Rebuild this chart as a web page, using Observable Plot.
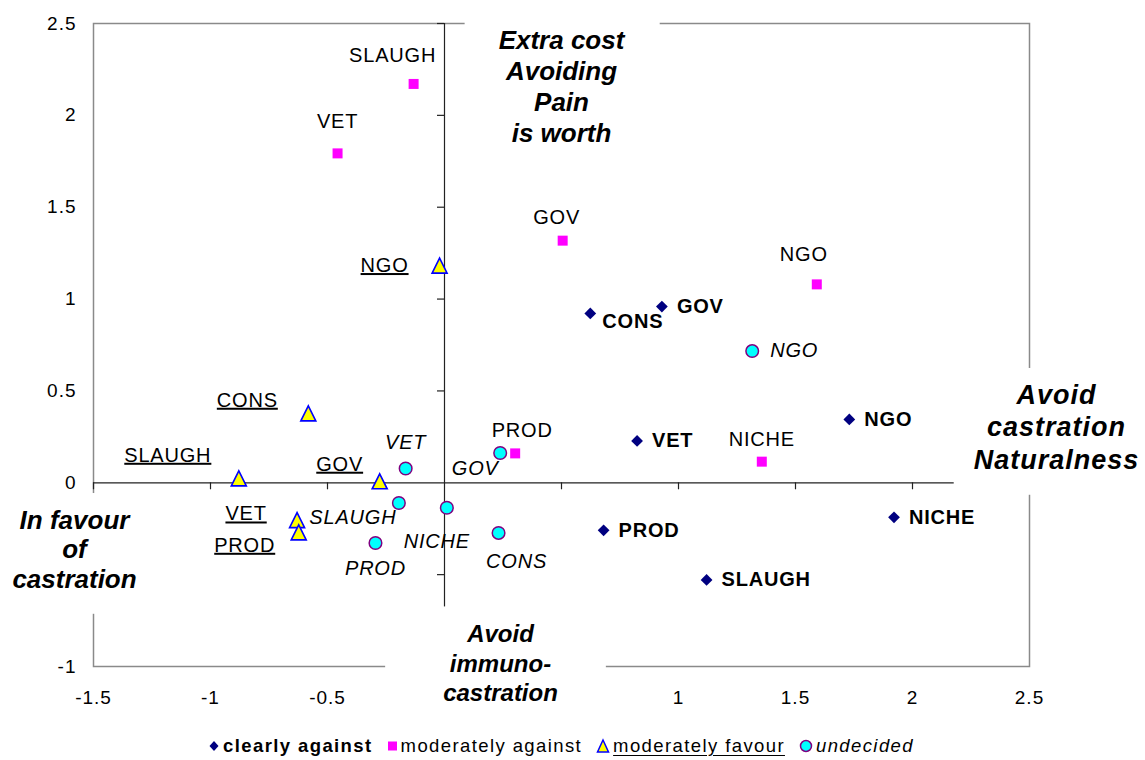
<!DOCTYPE html>
<html>
<head>
<meta charset="utf-8">
<script src="https://cdn.jsdelivr.net/npm/d3@7"></script>
<script src="https://cdn.jsdelivr.net/npm/@observablehq/plot@0.6"></script>
<style>
  html, body { margin: 0; padding: 0; background: #fff; }
  body { width: 1145px; height: 760px; overflow: hidden; font-family: "Liberation Sans", Arial, sans-serif; }
  #chart svg { display: block; }
  g[aria-label="x-axis tick label"] text, g[aria-label="y-axis tick label"] text { letter-spacing: 1px; }
  g[aria-description="pt-label"] text { letter-spacing: 0.8px; }
  g[aria-description="favour-label"] text { letter-spacing: 0.8px; text-decoration: underline; text-decoration-thickness: 2px; text-underline-offset: 3px; }
  #legend { display: flex; justify-content: center; align-items: center; height: 48px; padding-right: 23px;
            font-size: 18.5px; letter-spacing: 1.4px; color: #000; }
  #legend .item { display: flex; align-items: center; margin: 0 7px; }
  #legend svg { margin-right: 3px; }
</style>
</head>
<body>
<div id="chart"></div>
<div id="legend"></div>
<script>
// ---------- data ----------
const seriesNames = ["clearly against", "moderately against", "moderately favour", "undecided"];

const clearlyAgainstLabels = ["CONS", "GOV", "NGO", "VET", "PROD", "NICHE", "SLAUGH"];
const clearlyAgainstX = [0.623, 0.929, 1.730, 0.823, 0.680, 1.921, 1.120];
const clearlyAgainstY = [0.922, 0.959, 0.345, 0.228, -0.259, -0.188, -0.529];

const modAgainstLabels = ["SLAUGH", "VET", "GOV", "NGO", "PROD", "NICHE"];
const modAgainstX = [-0.132, -0.457, 0.505, 1.591, 0.302, 1.356];
const modAgainstY = [2.171, 1.793, 1.318, 1.080, 0.160, 0.115];

const modFavourLabels = ["NGO", "CONS", "SLAUGH", "GOV", "VET", "PROD"];
const modFavourX = [-0.021, -0.582, -0.879, -0.277, -0.630, -0.623];
const modFavourY = [1.182, 0.378, 0.024, 0.008, -0.203, -0.270];

const undecidedLabels = ["NGO", "VET", "GOV", "SLAUGH", "NICHE", "CONS", "PROD"];
const undecidedX = [1.315, -0.166, 0.238, -0.195, 0.010, 0.231, -0.295];
const undecidedY = [0.717, 0.078, 0.162, -0.110, -0.136, -0.273, -0.328];

// tick marks on the crossing axes, and the tick labels that the original shows
const xTicks = [-1.5, -1, -0.5, 0, 0.5, 1, 1.5, 2, 2.5];
const yTicks = [-1, -0.5, 0, 0.5, 1, 1.5, 2, 2.5];
const xTickLabels = [-1.5, -1, -0.5, 1, 1.5, 2, 2.5];
const yTickLabels = [-1, 0, 0.5, 1, 1.5, 2, 2.5];

const annotTop = "Extra cost\nAvoiding\nPain\nis worth";
const annotRight = "Avoid\ncastration\nNaturalness";
const annotLeft = "In favour\nof\ncastration";
const annotBottom = "Avoid\nimmuno-\ncastration";

// ---------- layout (label offsets in pixels, kept apart from the values) ----------
const clearlyAgainstOffsets = [[12, 8], [15, 0], [15, 0], [15, 0], [15, 0], [15, 0], [15, 0]];
const modAgainstOffsets = [[-21, -28], [0, -32], [-6, -23], [-13, -30], [7, -23], [0, -22]];
const modFavourOffsets = [[-55, 0], [-61, -13], [-71, -23], [-40, -17], [-51, -6], [-54, 13]];
const undecidedOffsets = [[42, 0], [0, -26], [-25, 16], [-46, 15], [-10, 34], [18, 29], [0, 26]];

const FONT = '"Liberation Sans", Arial, Helvetica, sans-serif';
const NAVY = "#000080", MAGENTA = "#FF00FF", YELLOW = "#FFFF00", BLUE = "#0000FF", CYAN = "#00FFFF", PURPLE = "#800080";

const zip = (labels, xs, ys) => labels.map((label, i) => ({label, x: xs[i], y: ys[i]}));
const clearlyAgainst = zip(clearlyAgainstLabels, clearlyAgainstX, clearlyAgainstY);
const modAgainst = zip(modAgainstLabels, modAgainstX, modAgainstY);
const modFavour = zip(modFavourLabels, modFavourX, modFavourY);
const undecided = zip(undecidedLabels, undecidedX, undecidedY);

const triangleSym = {
  draw(ctx, size) {
    const h = Math.sqrt(size) / 2;
    ctx.moveTo(0, -h); ctx.lineTo(h, h); ctx.lineTo(-h, h); ctx.closePath();
  }
};

function labelMarks(data, offsets, opts, desc) {
  return data.map((d, i) => Plot.text([d], {
    x: "x", y: "y", text: "label", dx: offsets[i][0], dy: offsets[i][1],
    fontSize: 20, fill: "#000", ariaDescription: desc, ...opts
  }));
}

const annotations = [
  {id: "annot-top", text: annotTop, frameAnchor: "top", lineAnchor: "top", dx: 0, dy: 4, fontSize: 26, lineHeight: 1.19, pad: [34, 34, 12, 10]},
  {id: "annot-right", text: annotRight, frameAnchor: "right", lineAnchor: "middle", dx: 27, dy: 81, fontSize: 27, lineHeight: 1.2, pad: [20, 20, 12, 20]},
  {id: "annot-left", text: annotLeft, frameAnchor: "left", lineAnchor: "middle", dx: -19, dy: 204, fontSize: 26, lineHeight: 1.13, pad: [20, 20, 12, 20]},
  {id: "annot-bottom", text: annotBottom, frameAnchor: "bottom", lineAnchor: "middle", dx: -61, dy: -4, fontSize: 24, lineHeight: 1.23, pad: [58, 48, 14, 12]}
];

const plot = Plot.plot({
  width: 1145,
  height: 722,
  marginLeft: 93,
  marginRight: 116,
  marginTop: 23,
  marginBottom: 56,
  x: {domain: [-1.5, 2.5]},
  y: {domain: [-1, 2.5]},
  style: {fontFamily: FONT, background: "white", color: "#000", overflow: "visible"},
  marks: [
    Plot.frame({stroke: "#8a8a8a", strokeWidth: 1.5}),
    Plot.axisX({ticks: xTickLabels, tickSize: 0, tickPadding: 24, fontSize: 19, tickFormat: d => String(d), label: null}),
    Plot.axisY({ticks: yTickLabels, tickSize: 0, tickPadding: 17, fontSize: 19, tickFormat: d => String(d), label: null}),
    Plot.ruleX([0], {stroke: "#222", strokeWidth: 1.2}),
    Plot.ruleY([0], {stroke: "#222", strokeWidth: 1.2}),
    Plot.ruleY(yTicks.filter(d => d !== 0), {y: d => d, x1: 0, x2: 0, insetLeft: -7, stroke: "#222", strokeWidth: 1.2}),
    Plot.ruleX(xTicks.filter(d => d !== 0), {x: d => d, y1: 0, y2: 0, insetBottom: -7, stroke: "#222", strokeWidth: 1.2}),
    Plot.dot(clearlyAgainst, {x: "x", y: "y", symbol: "diamond2", r: 5.3, fill: NAVY, stroke: "none"}),
    Plot.dot(modAgainst, {x: "x", y: "y", symbol: "square", r: 5.64, fill: MAGENTA, stroke: "none"}),
    Plot.dot(modFavour, {x: "x", y: "y", symbol: triangleSym, r: 8.46, fill: YELLOW, stroke: BLUE, strokeWidth: 1.6}),
    Plot.dot(undecided, {x: "x", y: "y", r: 6.3, fill: CYAN, stroke: PURPLE, strokeWidth: 1.5}),
    ...labelMarks(clearlyAgainst, clearlyAgainstOffsets, {textAnchor: "start", fontWeight: "bold"}, "pt-label"),
    ...labelMarks(modAgainst, modAgainstOffsets, {textAnchor: "middle"}, "pt-label"),
    ...labelMarks(modFavour, modFavourOffsets, {textAnchor: "middle"}, "favour-label"),
    ...labelMarks(undecided, undecidedOffsets, {textAnchor: "middle", fontStyle: "italic"}, "pt-label"),
    ...annotations.map(a => Plot.text([a.text], {
      text: d => d, frameAnchor: a.frameAnchor, lineAnchor: a.lineAnchor, textAnchor: "middle",
      dx: a.dx, dy: a.dy, fontSize: a.fontSize, lineHeight: a.lineHeight,
      fontWeight: "bold", fontStyle: "italic", fill: "#000", ariaDescription: a.id
    }))
  ]
});

document.getElementById("chart").append(plot);

// white boxes behind the four axis annotations (as in the original)
annotations.forEach(a => {
  const g = plot.querySelector(`g[aria-description="${a.id}"]`);
  if (!g) return;
  const t = g.querySelector("text");
  if (a.id === "annot-right") t.style.letterSpacing = "1px";
  const b = t.getBBox();
  const r = document.createElementNS("http://www.w3.org/2000/svg", "rect");
  r.setAttribute("x", b.x - a.pad[0]);
  r.setAttribute("y", b.y - a.pad[2]);
  r.setAttribute("width", b.width + a.pad[0] + a.pad[1]);
  r.setAttribute("height", b.height + a.pad[2] + a.pad[3]);
  r.setAttribute("fill", "white");
  if (t.getAttribute("transform")) r.setAttribute("transform", t.getAttribute("transform"));
  g.insertBefore(r, t);
});

// legend
const legendSymbols = [
  '<svg width="12" height="14"><path d="M6 2 L10.5 7 L6 12 L1.5 7Z" fill="' + NAVY + '"/></svg>',
  '<svg width="11" height="14"><rect x="1" y="2.5" width="9" height="9" fill="' + MAGENTA + '"/></svg>',
  '<svg width="14" height="16"><path d="M7 2 L12.5 14 L1.5 14Z" fill="' + YELLOW + '" stroke="' + BLUE + '" stroke-width="1.5"/></svg>',
  '<svg width="14" height="16"><circle cx="7" cy="8" r="5.5" fill="' + CYAN + '" stroke="' + PURPLE + '" stroke-width="1.5"/></svg>'
];
const legendStyles = ["font-weight:bold", "", "text-decoration:underline;text-underline-offset:3px", "font-style:italic"];
document.getElementById("legend").innerHTML = seriesNames.map((s, i) =>
  `<span class="item">${legendSymbols[i]}<span style="${legendStyles[i]}">${s}</span></span>`).join("");
</script>
</body>
</html>
